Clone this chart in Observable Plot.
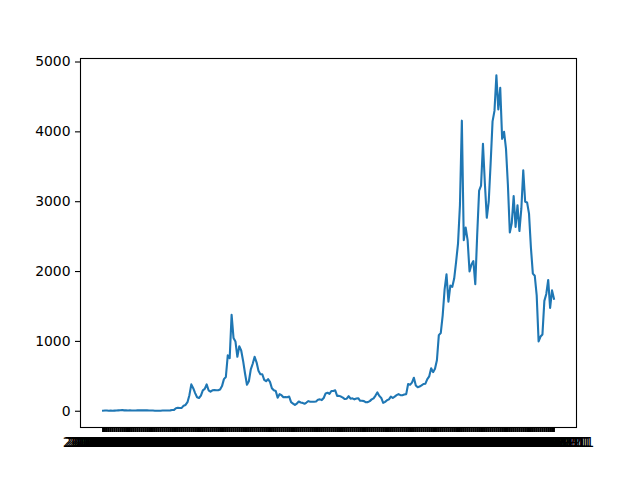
<!DOCTYPE html>
<html>
<head>
<meta charset="utf-8">
<script src="https://cdn.jsdelivr.net/npm/d3@7"></script>
<script src="https://cdn.jsdelivr.net/npm/@observablehq/plot@0.6"></script>
<style>
  html, body { margin: 0; padding: 0; background: #ffffff; }
  #chart { width: 640px; height: 480px; }
</style>
</head>
<body>
<div id="chart"></div>
<script>
const dates = [
  "2016-03-01","2016-03-11","2016-03-21","2016-04-01","2016-04-11","2016-04-21",
  "2016-05-01","2016-05-11","2016-05-21","2016-06-01","2016-06-11","2016-06-21",
  "2016-07-01","2016-07-11","2016-07-21","2016-08-01","2016-08-11","2016-08-21",
  "2016-09-01","2016-09-11","2016-09-21","2016-10-01","2016-10-11","2016-10-21",
  "2016-11-01","2016-11-11","2016-11-21","2016-12-01","2016-12-11","2016-12-21",
  "2017-01-01","2017-01-11","2017-01-21","2017-02-01","2017-02-11","2017-02-21",
  "2017-03-01","2017-03-11","2017-03-21","2017-04-01","2017-04-11","2017-04-21",
  "2017-05-01","2017-05-11","2017-05-21","2017-06-01","2017-06-11","2017-06-21",
  "2017-07-01","2017-07-11","2017-07-21","2017-08-01","2017-08-11","2017-08-21",
  "2017-09-01","2017-09-11","2017-09-21","2017-10-01","2017-10-11","2017-10-21",
  "2017-11-01","2017-11-11","2017-11-21","2017-12-01","2017-12-11","2017-12-21",
  "2018-01-01","2018-01-11","2018-01-21","2018-02-01","2018-02-11","2018-02-21",
  "2018-03-01","2018-03-11","2018-03-21","2018-04-01","2018-04-11","2018-04-21",
  "2018-05-01","2018-05-11","2018-05-21","2018-06-01","2018-06-11","2018-06-21",
  "2018-07-01","2018-07-11","2018-07-21","2018-08-01","2018-08-11","2018-08-21",
  "2018-09-01","2018-09-11","2018-09-21","2018-10-01","2018-10-11","2018-10-21",
  "2018-11-01","2018-11-11","2018-11-21","2018-12-01","2018-12-11","2018-12-21",
  "2019-01-01","2019-01-11","2019-01-21","2019-02-01","2019-02-11","2019-02-21",
  "2019-03-01","2019-03-11","2019-03-21","2019-04-01","2019-04-11","2019-04-21",
  "2019-05-01","2019-05-11","2019-05-21","2019-06-01","2019-06-11","2019-06-21",
  "2019-07-01","2019-07-11","2019-07-21","2019-08-01","2019-08-11","2019-08-21",
  "2019-09-01","2019-09-11","2019-09-21","2019-10-01","2019-10-11","2019-10-21",
  "2019-11-01","2019-11-11","2019-11-21","2019-12-01","2019-12-11","2019-12-21",
  "2020-01-01","2020-01-11","2020-01-21","2020-02-01","2020-02-11","2020-02-21",
  "2020-03-01","2020-03-11","2020-03-21","2020-04-01","2020-04-11","2020-04-21",
  "2020-05-01","2020-05-11","2020-05-21","2020-06-01","2020-06-11","2020-06-21",
  "2020-07-01","2020-07-11","2020-07-21","2020-08-01","2020-08-11","2020-08-21",
  "2020-09-01","2020-09-11","2020-09-21","2020-10-01","2020-10-11","2020-10-21",
  "2020-11-01","2020-11-11","2020-11-21","2020-12-01","2020-12-11","2020-12-21",
  "2021-01-01","2021-01-11","2021-01-21","2021-02-01","2021-02-11","2021-02-21",
  "2021-03-01","2021-03-11","2021-03-21","2021-04-01","2021-04-11","2021-04-21",
  "2021-05-01","2021-05-11","2021-05-21","2021-06-01","2021-06-11","2021-06-21",
  "2021-07-01","2021-07-11","2021-07-21","2021-08-01","2021-08-11","2021-08-21",
  "2021-09-01","2021-09-11","2021-09-21","2021-10-01","2021-10-11","2021-10-21",
  "2021-11-01","2021-11-11","2021-11-21","2021-12-01","2021-12-11","2021-12-21",
  "2022-01-01","2022-01-11","2022-01-21","2022-02-01","2022-02-11","2022-02-21",
  "2022-03-01","2022-03-11","2022-03-21","2022-04-01","2022-04-11","2022-04-21",
  "2022-05-01","2022-05-11","2022-05-21","2022-06-01","2022-06-11","2022-06-21",
  "2022-07-01","2022-07-11","2022-07-21","2022-08-01","2022-08-11","2022-08-21",
  "2022-09-01","2022-09-11"
];

const prices = [
  8, 11, 11, 7.5, 8.5, 8,
  9, 10, 13, 14, 18, 13,
  12, 11, 13, 11, 11, 11,
  12, 12, 13, 13, 12, 12,
  11, 10, 10, 8, 8, 7.5,
  8, 10, 11, 11, 11, 13,
  17, 20, 43, 50, 47, 48,
  80, 90, 130, 230, 385, 330,
  260, 200, 190, 225, 300, 320,
  385, 300, 280, 300, 305, 300,
  300, 310, 360, 460, 490, 800,
  760, 1380, 1050, 1000, 780, 930,
  870, 720, 540, 380, 430, 600,
  680, 780, 700, 580, 530, 530,
  450, 430, 460, 420, 330, 300,
  290, 195, 245, 230, 200, 205,
  200, 210, 130, 110, 90, 110,
  140, 125, 120, 107, 125, 145,
  135, 135, 137, 140, 165, 170,
  160, 190, 255, 265, 250, 290,
  290, 300, 220, 220, 210, 195,
  175, 180, 215, 180, 185, 170,
  182, 187, 150, 150, 145, 128,
  130, 145, 170, 185, 225, 270,
  220, 190, 120, 135, 158, 170,
  210, 190, 210, 230, 245, 230,
  230, 240, 245, 390, 380, 410,
  480, 370, 345, 355, 370, 390,
  395, 460, 500, 615, 560, 610,
  730, 1090, 1120, 1370, 1740, 1960,
  1570, 1800, 1780, 1900, 2140, 2400,
  2950, 4160, 2450, 2630, 2450, 2000,
  2100, 2150, 1820, 2530, 3160, 3230,
  3830, 3260, 2770, 3000, 3550, 4150,
  4300, 4810, 4320, 4630, 3900, 4000,
  3760, 3240, 2560, 2690, 3080, 2640,
  2950, 2580, 2900, 3450, 3000, 2990,
  2830, 2340, 1970, 1940, 1660, 1000,
  1070, 1100, 1580, 1680, 1880, 1480,
  1730, 1610
];

const yTicks = [0, 1000, 2000, 3000, 4000, 5000];

const data = dates.map((d, i) => ({date: d, price: prices[i]}));
const [lo, hi] = d3.extent(prices);
const pad = (hi - lo) * 0.05;

const chart = Plot.plot({
  width: 640,
  height: 480,
  marginLeft: 80,
  marginRight: 64,
  marginTop: 58,
  marginBottom: 53,
  style: {fontFamily: "DejaVu Sans", fontSize: "13.9px", color: "black", background: "white", overflow: "visible"},
  x: {type: "point", domain: dates, padding: 0.05 * (dates.length - 1)},
  y: {domain: [lo - pad, hi + pad]},
  marks: [
    Plot.axisY({ticks: yTicks, tickSize: 5, tickPadding: 5, label: null, tickFormat: d => String(d), strokeWidth: 1.1, fontSize: 13.9, fill: "black"}),
    Plot.axisX({ticks: dates, tickSize: 5, tickPadding: 5, label: null, strokeWidth: 2, fontSize: 13.9, fill: "black"}),
    Plot.line(data, {x: "date", y: "price", stroke: "#1f77b4", strokeWidth: 2.1, strokeLinejoin: "round", strokeLinecap: "square"}),
    Plot.frame({stroke: "black", strokeWidth: 1.1})
  ]
});
document.getElementById("chart").appendChild(chart);
</script>
</body>
</html>
